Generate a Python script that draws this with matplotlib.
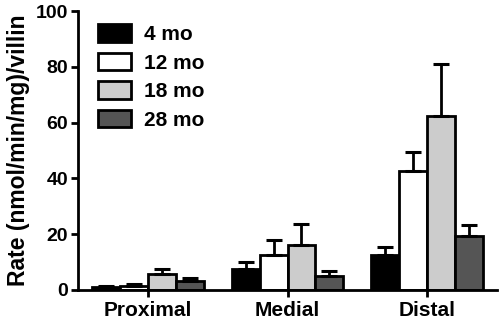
import matplotlib
matplotlib.use("Agg")
import matplotlib.pyplot as plt
import numpy as np

plt.rcParams['font.family'] = ['Liberation Sans', 'DejaVu Sans']
plt.rcParams['font.weight'] = 'bold'

categories = ["Proximal", "Medial", "Distal"]
series = ["4 mo", "12 mo", "18 mo", "28 mo"]
values = {
    "4 mo":  [1.0, 7.5, 12.5],
    "12 mo": [1.5, 12.5, 42.5],
    "18 mo": [5.8, 16.3, 62.5],
    "28 mo": [3.3, 5.0, 19.3],
}
errors = {
    "4 mo":  [0.5, 2.7, 3.0],
    "12 mo": [0.6, 5.5, 7.0],
    "18 mo": [1.6, 7.5, 18.5],
    "28 mo": [1.0, 1.8, 4.0],
}
colors = ["#000000", "#ffffff", "#cccccc", "#555555"]

fig = plt.figure(figsize=(5.0, 3.21), dpi=100)
ax = fig.add_axes([0.156, 0.0966, 0.838, 0.869])

x = np.arange(len(categories))
w = 0.2
for i, s in enumerate(series):
    pos = x + (i - 1.5) * w
    ax.bar(pos, values[s], w, color=colors[i], edgecolor='black', linewidth=2,
           yerr=[np.zeros(3), errors[s]], error_kw=dict(ecolor='black', elinewidth=2,
           capsize=6, capthick=2.2), label=s, zorder=2)

ax.set_xlim(-0.5, 2.5)
ax.set_ylim(0, 100)
ax.set_yticks([0, 20, 40, 60, 80, 100])
ax.set_xticks(x)
ax.set_xticklabels(categories, fontsize=15, fontweight='bold')
ax.tick_params(axis='y', labelsize=14, width=2, length=5, pad=2)
ax.tick_params(axis='x', width=2, length=5, pad=3)
for lab in ax.get_yticklabels():
    lab.set_fontweight('bold')
ax.set_ylabel("Rate (nmol/min/mg)/villin", fontsize=16.5, fontweight='bold', labelpad=4)
for sp in ['top', 'right']:
    ax.spines[sp].set_visible(False)
for sp in ['left', 'bottom']:
    ax.spines[sp].set_linewidth(2)

leg = ax.legend(loc='upper left', bbox_to_anchor=(0.012, 1.005), frameon=False,
                handlelength=1.6, handleheight=0.9, labelspacing=0.42,
                handletextpad=0.65, borderaxespad=0.3,
                prop={'weight': 'bold', 'size': 15})

fig.savefig("out.png", dpi=100)
